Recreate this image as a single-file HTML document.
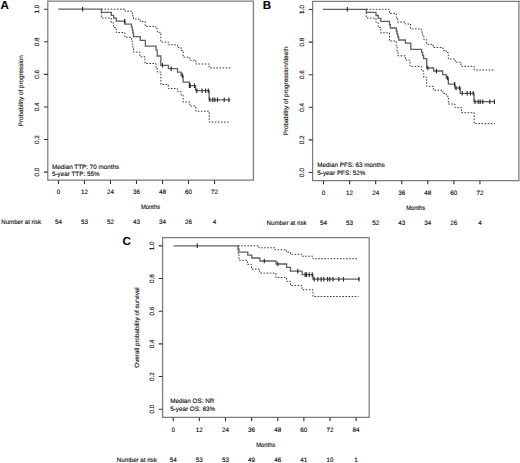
<!DOCTYPE html>
<html><head><meta charset="utf-8"><style>
html,body{margin:0;padding:0;background:#fff;}
svg{display:block;}
text{text-rendering:geometricPrecision;font-family:"Liberation Sans", sans-serif;font-size:6.3px;fill:#000;stroke:#000;stroke-width:0.1px;}
</style></head><body>
<svg width="520" height="463" viewBox="0 0 520 463">
<rect width="520" height="463" fill="#fff"/>
<text x="0.6" y="9" style="font-weight:bold;font-size:11.6px">A</text>
<path d="M47.8 1.2H253.4V180.2H47.8Z" fill="none" stroke="#7c7c7c" stroke-width="1.25"/>
<path d="M43.9 172.10H47.8M43.9 139.52H47.8M43.9 106.94H47.8M43.9 74.36H47.8M43.9 41.78H47.8M43.9 9.20H47.8M58.45 180.2V184.0M84.47 180.2V184.0M110.48 180.2V184.0M136.50 180.2V184.0M162.51 180.2V184.0M188.53 180.2V184.0M214.55 180.2V184.0" stroke="#333" stroke-width="1.1"/>
<text transform="translate(38.7 172.10) rotate(-90)" text-anchor="middle">0.0</text>
<text transform="translate(38.7 139.52) rotate(-90)" text-anchor="middle">0.2</text>
<text transform="translate(38.7 106.94) rotate(-90)" text-anchor="middle">0.4</text>
<text transform="translate(38.7 74.36) rotate(-90)" text-anchor="middle">0.6</text>
<text transform="translate(38.7 41.78) rotate(-90)" text-anchor="middle">0.8</text>
<text transform="translate(38.7 9.20) rotate(-90)" text-anchor="middle">1.0</text>
<text x="58.45" y="194.35" text-anchor="middle">0</text>
<text x="84.47" y="194.35" text-anchor="middle">12</text>
<text x="110.48" y="194.35" text-anchor="middle">24</text>
<text x="136.50" y="194.35" text-anchor="middle">36</text>
<text x="162.51" y="194.35" text-anchor="middle">48</text>
<text x="188.53" y="194.35" text-anchor="middle">60</text>
<text x="214.55" y="194.35" text-anchor="middle">72</text>
<text transform="translate(23.3 90.70) rotate(-90)" text-anchor="middle">Probability of progression</text>
<text transform="translate(150.5 209.2) scale(0.925 1)" text-anchor="middle">Months</text>
<text transform="translate(1.2 224.3) scale(0.975 1)">Number at risk</text>
<text x="58.45" y="224.3" text-anchor="middle">54</text>
<text x="84.47" y="224.3" text-anchor="middle">53</text>
<text x="110.48" y="224.3" text-anchor="middle">52</text>
<text x="136.50" y="224.3" text-anchor="middle">43</text>
<text x="162.51" y="224.3" text-anchor="middle">34</text>
<text x="188.53" y="224.3" text-anchor="middle">26</text>
<text x="214.55" y="224.3" text-anchor="middle">4</text>
<text x="52.0" y="168.8">Median TTP: 70 months</text>
<text x="52.0" y="176.1">5-year TTP: 55%</text>
<text x="262.7" y="8.95" style="font-weight:bold;font-size:11.6px">B</text>
<path d="M312.6 1.3H518.9V180.5H312.6Z" fill="none" stroke="#7c7c7c" stroke-width="1.25"/>
<path d="M308.70000000000005 172.50H312.6M308.70000000000005 139.90H312.6M308.70000000000005 107.30H312.6M308.70000000000005 74.70H312.6M308.70000000000005 42.10H312.6M308.70000000000005 9.50H312.6M323.50 180.5V184.3M349.58 180.5V184.3M375.65 180.5V184.3M401.73 180.5V184.3M427.80 180.5V184.3M453.88 180.5V184.3M479.96 180.5V184.3" stroke="#333" stroke-width="1.1"/>
<text transform="translate(303.8 172.50) rotate(-90)" text-anchor="middle">0.0</text>
<text transform="translate(303.8 139.90) rotate(-90)" text-anchor="middle">0.2</text>
<text transform="translate(303.8 107.30) rotate(-90)" text-anchor="middle">0.4</text>
<text transform="translate(303.8 74.70) rotate(-90)" text-anchor="middle">0.6</text>
<text transform="translate(303.8 42.10) rotate(-90)" text-anchor="middle">0.8</text>
<text transform="translate(303.8 9.50) rotate(-90)" text-anchor="middle">1.0</text>
<text x="323.50" y="194.7" text-anchor="middle">0</text>
<text x="349.58" y="194.7" text-anchor="middle">12</text>
<text x="375.65" y="194.7" text-anchor="middle">24</text>
<text x="401.73" y="194.7" text-anchor="middle">36</text>
<text x="427.80" y="194.7" text-anchor="middle">48</text>
<text x="453.88" y="194.7" text-anchor="middle">60</text>
<text x="479.96" y="194.7" text-anchor="middle">72</text>
<text transform="translate(288.40000000000003 90.90) rotate(-90)" text-anchor="middle">Probability of progression/death</text>
<text transform="translate(415.70000000000005 209.9) scale(0.925 1)" text-anchor="middle">Months</text>
<text transform="translate(266.6 224.9) scale(0.975 1)">Number at risk</text>
<text x="323.50" y="224.9" text-anchor="middle">54</text>
<text x="349.58" y="224.9" text-anchor="middle">53</text>
<text x="375.65" y="224.9" text-anchor="middle">52</text>
<text x="401.73" y="224.9" text-anchor="middle">43</text>
<text x="427.80" y="224.9" text-anchor="middle">34</text>
<text x="453.88" y="224.9" text-anchor="middle">26</text>
<text x="479.96" y="224.9" text-anchor="middle">4</text>
<text x="317.3" y="167.1">Median PFS: 63 months</text>
<text x="317.3" y="174.5">5-year PFS: 52%</text>
<text x="122.6" y="245.2" style="font-weight:bold;font-size:11.6px">C</text>
<path d="M162.6 237.6H369.2V417.4H162.6Z" fill="none" stroke="#7c7c7c" stroke-width="1.25"/>
<path d="M158.7 409.20H162.6M158.7 376.54H162.6M158.7 343.88H162.6M158.7 311.22H162.6M158.7 278.56H162.6M158.7 245.90H162.6M173.25 417.4V421.2M199.37 417.4V421.2M225.50 417.4V421.2M251.62 417.4V421.2M277.75 417.4V421.2M303.87 417.4V421.2M329.99 417.4V421.2M356.12 417.4V421.2" stroke="#333" stroke-width="1.1"/>
<text transform="translate(154.0 409.20) rotate(-90)" text-anchor="middle">0.0</text>
<text transform="translate(154.0 376.54) rotate(-90)" text-anchor="middle">0.2</text>
<text transform="translate(154.0 343.88) rotate(-90)" text-anchor="middle">0.4</text>
<text transform="translate(154.0 311.22) rotate(-90)" text-anchor="middle">0.6</text>
<text transform="translate(154.0 278.56) rotate(-90)" text-anchor="middle">0.8</text>
<text transform="translate(154.0 245.90) rotate(-90)" text-anchor="middle">1.0</text>
<text x="173.25" y="432.0" text-anchor="middle">0</text>
<text x="199.37" y="432.0" text-anchor="middle">12</text>
<text x="225.50" y="432.0" text-anchor="middle">24</text>
<text x="251.62" y="432.0" text-anchor="middle">36</text>
<text x="277.75" y="432.0" text-anchor="middle">48</text>
<text x="303.87" y="432.0" text-anchor="middle">60</text>
<text x="329.99" y="432.0" text-anchor="middle">72</text>
<text x="356.12" y="432.0" text-anchor="middle">84</text>
<text transform="translate(139.0 327.50) rotate(-90)" text-anchor="middle">Overall probability of survival</text>
<text transform="translate(265.8 446.7) scale(0.925 1)" text-anchor="middle">Months</text>
<text transform="translate(116.8 462.1) scale(0.975 1)">Number at risk</text>
<text x="173.25" y="462.1" text-anchor="middle">54</text>
<text x="199.37" y="462.1" text-anchor="middle">53</text>
<text x="225.50" y="462.1" text-anchor="middle">53</text>
<text x="251.62" y="462.1" text-anchor="middle">49</text>
<text x="277.75" y="462.1" text-anchor="middle">46</text>
<text x="303.87" y="462.1" text-anchor="middle">41</text>
<text x="329.99" y="462.1" text-anchor="middle">10</text>
<text x="356.12" y="462.1" text-anchor="middle">1</text>
<text x="170.2" y="403.0">Median OS: NR</text>
<text x="170.2" y="410.9">5-year OS: 83%</text>
<path d="M518.9 1.3H520" stroke="#7c7c7c" stroke-width="1.25"/>
<path d="M101.40 9.20H125.00V11.20H131.50V12.60H132.30V14.60H132.90V16.80H133.50V19.10H140.20V21.50H145.20V26.40H156.10V28.60H157.30V32.30H160.80V42.10H168.40V44.80H177.50V47.60H181.20V50.40H183.10V57.20H189.80V60.20H195.80V64.00H209.20V67.90H230.40" fill="none" stroke="#3a3a3a" stroke-width="1.0" stroke-dasharray="1.6 1.5"/>
<path d="M101.40 9.20H101.40V18.00H111.20V22.80H113.60V27.60H116.20V32.50H124.80V37.30H131.50V41.00H132.30V44.60H132.90V48.40H133.50V52.10H139.90V56.80H145.00V63.50H156.00V67.40H157.20V72.00H160.90V84.50H168.30V88.50H177.40V91.60H181.10V95.30H183.20V102.00H189.80V106.00H195.80V111.20H209.20V122.10H230.40" fill="none" stroke="#3a3a3a" stroke-width="1.0" stroke-dasharray="1.6 1.5"/>
<path d="M58.30 9.20H101.40V12.30H111.30V15.30H113.70V18.20H116.30V21.20H125.10V24.10H131.50V27.10H132.30V30.10H132.90V33.10H133.50V36.70H140.20V40.40H145.40V46.20H156.10V50.20H157.20V56.00H160.80V65.30H168.40V68.70H177.50V72.20H181.20V75.60H183.10V82.10H189.50V85.70H195.60V90.70H209.10V99.80H230.40" fill="none" stroke="#606060" stroke-width="1.3"/>
<path d="M82.60 6.90V11.50M124.60 18.90V23.50M162.50 63.00V67.60M171.20 66.40V71.00M182.40 73.30V77.90M189.40 83.40V88.00M190.20 83.40V88.00M194.50 83.40V88.00M196.80 88.40V93.00M202.10 88.40V93.00M205.60 88.40V93.00M208.30 88.40V93.00M209.80 97.50V102.10M212.80 97.50V102.10M214.80 97.50V102.10M217.50 97.50V102.10M224.20 97.50V102.10M228.90 97.50V102.10" fill="none" stroke="#2a2a2a" stroke-width="1.15"/>
<path d="M366.40 9.30H389.50V13.40H396.30V17.50H397.60V22.00H405.20V24.00H410.60V28.90H421.30V32.00H422.60V36.00H423.80V39.50H426.60V44.30H433.10V47.50H442.90V50.30H446.20V52.50H448.30V59.00H455.20V62.20H461.00V66.30H474.20V70.00H495.00" fill="none" stroke="#3a3a3a" stroke-width="1.0" stroke-dasharray="1.6 1.5"/>
<path d="M366.40 9.30H366.40V18.10H376.00V22.60H378.30V27.50H380.80V32.80H389.50V41.00H396.30V45.80H397.00V51.00H398.00V55.80H405.40V60.00H410.00V66.40H421.40V69.80H423.20V73.50H423.80V77.30H426.70V86.30H433.30V90.20H442.80V93.50H446.30V96.20H448.40V104.00H455.00V107.70H461.50V112.70H474.20V123.60H495.00" fill="none" stroke="#3a3a3a" stroke-width="1.0" stroke-dasharray="1.6 1.5"/>
<path d="M323.00 9.30H366.40V12.40H376.00V15.50H378.30V18.40H380.80V21.30H389.50V24.60H390.30V28.00H396.30V31.00H397.00V34.00H397.80V37.00H398.70V40.00H405.40V43.10H410.80V49.30H421.60V52.40H422.60V55.50H423.60V58.60H426.70V68.00H433.60V71.00H442.70V74.70H446.20V78.00H448.40V84.20H454.90V88.00H460.20V93.30H474.00V101.70H495.00" fill="none" stroke="#606060" stroke-width="1.3"/>
<path d="M347.30 7.00V11.60M427.80 65.70V70.30M436.50 68.70V73.30M447.60 75.70V80.30M454.60 81.90V86.50M456.00 85.70V90.30M459.60 85.70V90.30M462.20 91.00V95.60M467.20 91.00V95.60M470.40 91.00V95.60M473.20 91.00V95.60M475.00 99.40V104.00M478.20 99.40V104.00M480.20 99.40V104.00M482.80 99.40V104.00M489.80 99.40V104.00M494.40 99.40V104.00" fill="none" stroke="#2a2a2a" stroke-width="1.15"/>
<path d="M238.10 245.80H258.90V247.80H275.10V249.70H286.30V252.20H290.50V254.30H301.80V256.20H312.90V258.70H358.50" fill="none" stroke="#3a3a3a" stroke-width="1.0" stroke-dasharray="1.6 1.5"/>
<path d="M238.10 245.80H238.10V253.50H238.90V260.30H247.30V264.40H251.50V269.20H259.70V273.10H275.90V277.50H286.50V281.30H290.50V285.60H302.10V289.70H313.00V296.50H358.50" fill="none" stroke="#3a3a3a" stroke-width="1.0" stroke-dasharray="1.6 1.5"/>
<path d="M173.60 245.80H238.10V249.00H238.90V252.20H247.80V255.20H251.80V258.00H259.90V261.00H276.00V264.00H286.60V267.30H290.50V271.10H302.10V274.60H312.90V279.20H360.00" fill="none" stroke="#606060" stroke-width="1.3"/>
<path d="M197.30 243.50V248.10M264.30 258.70V263.30M277.80 261.70V266.30M297.80 268.80V273.40M305.10 272.30V276.90M306.50 272.30V276.90M309.20 272.30V276.90M312.20 272.30V276.90M314.20 276.90V281.50M317.80 276.90V281.50M321.10 276.90V281.50M323.80 276.90V281.50M327.60 276.90V281.50M329.70 276.90V281.50M333.00 276.90V281.50M338.90 276.90V281.50M343.50 276.90V281.50M358.90 276.90V281.50" fill="none" stroke="#2a2a2a" stroke-width="1.15"/>
</svg>
</body></html>
